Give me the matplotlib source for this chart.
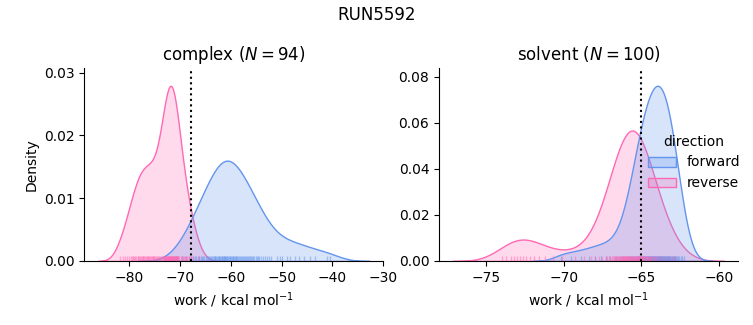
import numpy as np
import pandas as pd
import matplotlib
matplotlib.use("Agg")
import matplotlib.pyplot as plt
import seaborn as sns

run_name = "RUN5592"

complex_forward = [
    -70.6,
    -69.6, -68.9, -68.3,
    -67.8, -67.5, -67.1, -66.8, -66.5, -66.2,
    -65.9, -65.7, -65.5, -65.2, -65.0, -64.8, -64.6, -64.4, -64.1,
    -63.9, -63.7, -63.6, -63.4, -63.2, -63.1, -62.9, -62.8, -62.6, -62.4, -62.3, -62.1,
    -61.9, -61.8, -61.7, -61.5, -61.4, -61.35, -61.2, -61.1, -61.0, -60.8, -60.7,
    -60.5, -60.4, -60.2, -60.1,
    -59.9, -59.8, -59.6, -59.5, -59.3, -59.2, -59.0, -58.9, -58.7, -58.6, -58.4, -58.3, -58.1,
    -57.9, -57.7, -57.5, -57.3, -57.1, -56.9, -56.7, -56.5, -56.3, -56.1,
    -55.9, -55.6, -55.4, -55.1, -54.9, -54.6, -54.4, -54.1,
    -53.7, -53.3, -52.9, -52.5, -52.1,
    -50.9, -50.3,
    -49.9, -49.0, -48.3,
    -47.3, -46.5,
    -45.6, -44.4,
    -43.4,
    -41.0, -40.4,
]
complex_reverse = [
    -81.9,
    -81.3, -80.8,
    -80.4, -80.0, -79.7,
    -79.4, -79.2, -79.0, -78.8, -78.6,
    -78.4, -78.25, -78.1, -77.9, -77.75, -77.6,
    -77.4, -77.25, -77.1, -76.9, -76.75, -76.6,
    -76.4, -76.25, -76.1, -75.9, -75.75, -75.6,
    -75.4, -75.25, -75.1, -74.9, -74.75, -74.6,
    -74.45, -74.25, -74.05, -73.85, -73.65, -73.45,
    -73.20, -73.13, -73.06, -72.98, -72.91, -72.84, -72.77, -72.69, -72.62, -72.55,
    -72.48, -72.40, -72.33, -72.26, -72.19, -72.11, -72.04, -71.97, -71.90, -71.82,
    -71.75, -71.68, -71.61, -71.53, -71.46, -71.39, -71.32, -71.24, -71.17, -71.10,
    -71.03, -70.95, -70.88, -70.81, -70.74, -70.66, -70.59, -70.52, -70.45, -70.37,
    -70.30,
    -69.85, -69.6, -69.35, -69.15, -68.95, -68.75, -68.55,
    -68.3, -68.05, -67.8, -67.55,
    -66.3,
]
solvent_forward = [
    -70.2, -69.5, -68.9, -68.4, -68.0, -67.6, -67.3,
    -67.0,
    -66.65, -66.4,
    -66.2, -66.08, -65.92, -65.8,
    -65.7, -65.64, -65.58, -65.52, -65.46, -65.4, -65.34, -65.28,
    -65.23, -65.19, -65.15, -65.11, -65.07, -65.03, -64.98, -64.94, -64.9, -64.86, -64.82, -64.78,
    -64.73, -64.7, -64.67, -64.63, -64.6, -64.57, -64.53, -64.5, -64.47, -64.43, -64.4, -64.37, -64.33, -64.3, -64.27,
    -64.23, -64.2, -64.17, -64.14, -64.11, -64.08, -64.05, -64.02, -63.98, -63.95, -63.92, -63.89, -63.86, -63.83, -63.8, -63.77,
    -63.73, -63.7, -63.67, -63.64, -63.61, -63.58, -63.55, -63.52, -63.48, -63.45, -63.42, -63.39, -63.36, -63.33, -63.3, -63.27,
    -63.23, -63.19, -63.15, -63.12, -63.08, -63.04, -63.0, -62.96, -62.92, -62.88, -62.85, -62.81, -62.77,
    -62.72, -62.63, -62.54, -62.46, -62.37, -62.28,
]
solvent_reverse = [
    -74.0, -73.7, -73.4, -73.2, -73.0, -72.8, -72.6, -72.4, -72.2, -71.9, -71.6, -71.2, -70.7, -70.1,
    -69.3, -68.7,
    -68.25, -68.0,
    -67.75, -67.5,
    -67.3, -67.2, -67.1, -67.0, -66.9,
    -66.82, -66.77, -66.72, -66.67, -66.62, -66.57, -66.52, -66.47, -66.42, -66.37,
    -66.33, -66.3, -66.26, -66.23, -66.2, -66.16, -66.13, -66.1, -66.06, -66.03, -66.0, -65.96, -65.93, -65.9, -65.87,
    -65.83, -65.8, -65.76, -65.73, -65.69, -65.66, -65.62, -65.58, -65.55, -65.51, -65.48, -65.44, -65.41, -65.37,
    -65.33, -65.3, -65.26, -65.23, -65.2, -65.16, -65.13, -65.1, -65.06, -65.03, -65.0, -64.96, -64.93, -64.9, -64.87,
    -64.82, -64.77, -64.72, -64.67, -64.62, -64.57, -64.52, -64.47, -64.42, -64.37,
    -64.3, -64.2, -64.1, -64.0, -63.9,
    -63.8, -63.6, -63.4,
    -63.2, -63.0,
    -62.8,
]

# free energy estimate per phase (dotted line)
estimate = {"complex": -67.9, "solvent": -65.0}
phases = ["complex", "solvent"]
n_samples = {"complex": 94, "solvent": 100}

rows = []
for phase, fwd, rev in [("complex", complex_forward, complex_reverse),
                        ("solvent", solvent_forward, solvent_reverse)]:
    for w in fwd:
        rows.append({"work": w, "direction": "forward", "phase": phase})
    for w in rev:
        rows.append({"work": w, "direction": "reverse", "phase": phase})
df = pd.DataFrame(rows)

palette = {"forward": "cornflowerblue", "reverse": "hotpink"}

g = sns.displot(data=df, x="work", hue="direction", col="phase", col_order=phases,
                kind="kde", fill=True, rug=True, palette=palette,
                hue_order=["forward", "reverse"],
                rug_kws=dict(alpha=0.5, lw=0.8),
                facet_kws=dict(sharex=False, sharey=False))

for ax, phase in zip(g.axes.flat, phases):
    ax.axvline(estimate[phase], color="k", ls=":", lw=1.5)
    ax.set_title(f"{phase} ($N={n_samples[phase]}$)")
    ax.set_xlabel("work / kcal mol$^{-1}$")

g.axes.flat[0].set_ylabel("Density")
g.figure.suptitle(run_name)
g.figure.set_size_inches(7.53, 3.25)
g.figure.subplots_adjust(left=0.112, right=0.98, top=0.79, bottom=0.197, wspace=0.187)

g.figure.savefig("out.png", dpi=100)
